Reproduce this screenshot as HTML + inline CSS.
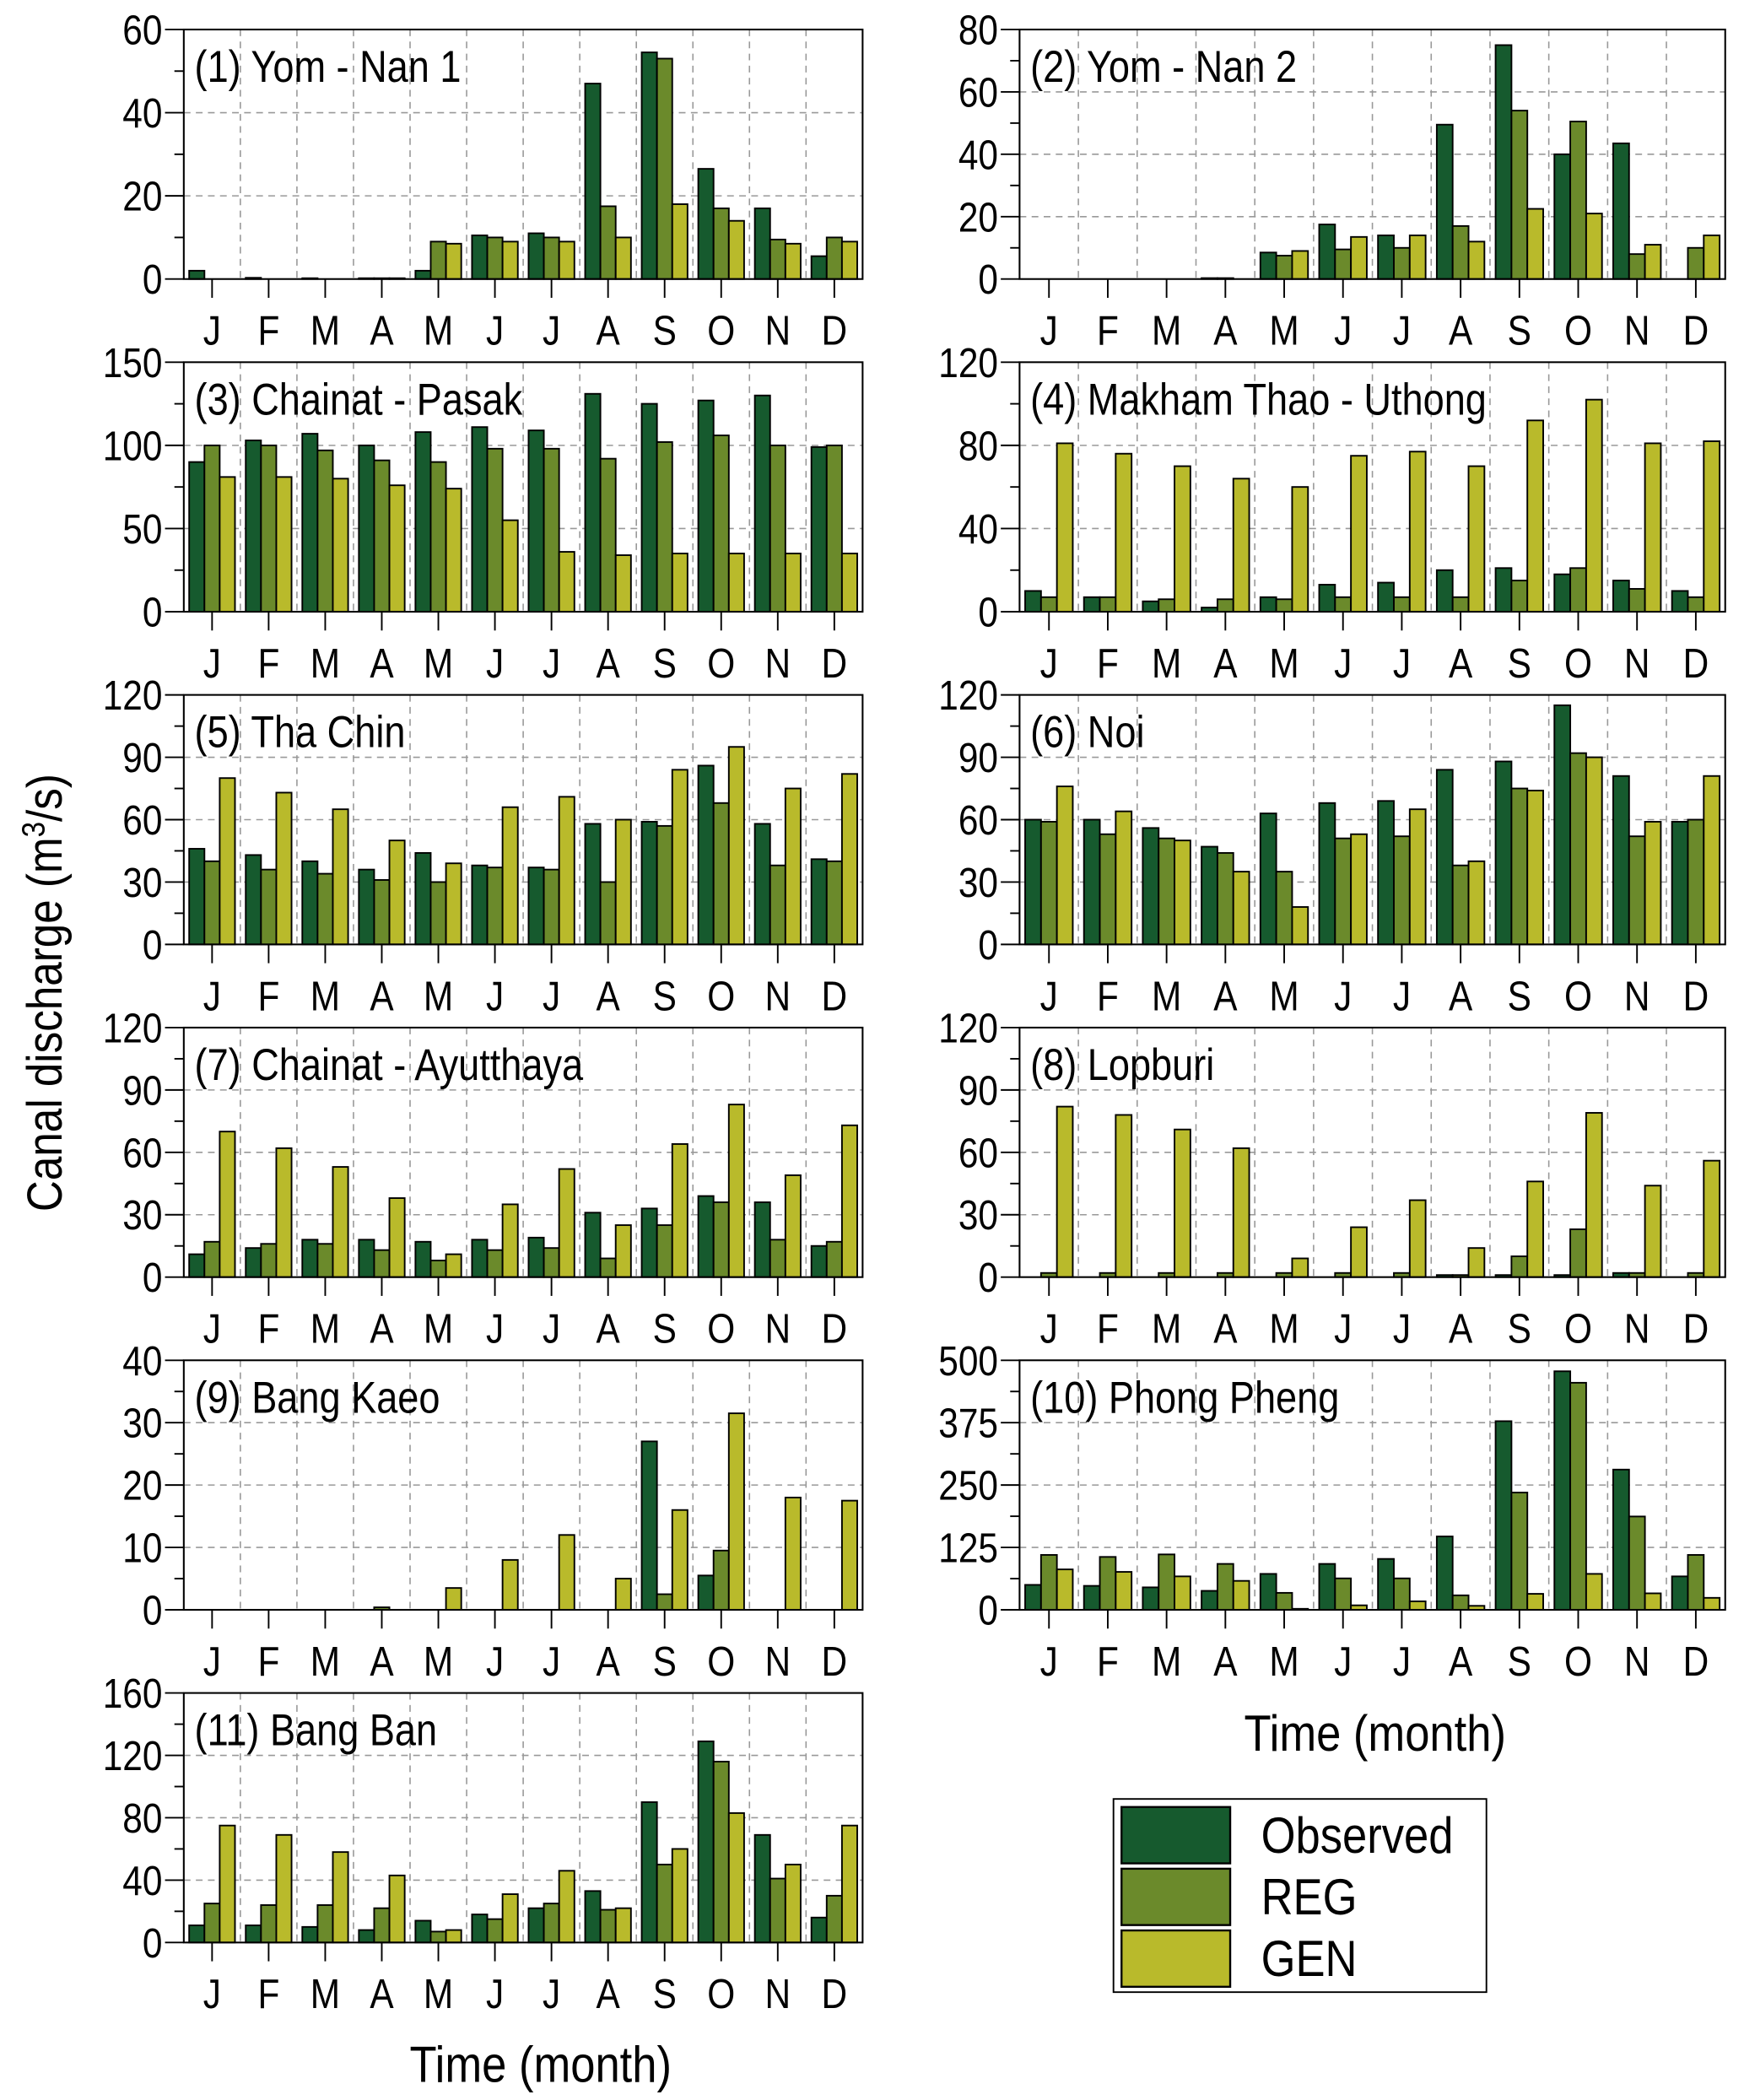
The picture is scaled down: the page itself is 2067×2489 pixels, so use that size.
<!DOCTYPE html>
<html><head><meta charset="utf-8"><style>html,body{margin:0;padding:0;background:#fff}svg{display:block}text{font-family:"Liberation Sans",Arial,sans-serif;fill:#000}</style></head>
<body>
<svg id="chart" width="2067" height="2489" viewBox="0 0 1300 1565.4" preserveAspectRatio="none" xmlns="http://www.w3.org/2000/svg">
<text transform="translate(46,740) rotate(-90) scale(0.87,1)" text-anchor="middle" font-size="37">Canal discharge (m<tspan font-size="24" dy="-13">3</tspan><tspan dy="13">/s)</tspan></text>
<text transform="translate(403,1552) scale(0.87,1)" text-anchor="middle" font-size="38">Time (month)</text>
<text transform="translate(1025,1305) scale(0.87,1)" text-anchor="middle" font-size="38">Time (month)</text>
<g>
<rect x="830" y="1341" width="278" height="144" fill="#fff" stroke="#000" stroke-width="1.2"/>
<rect x="836" y="1347" width="81" height="42" fill="#165a2e" stroke="#000" stroke-width="1.5"/>
<rect x="836" y="1393" width="81" height="42" fill="#6b8a2b" stroke="#000" stroke-width="1.5"/>
<rect x="836" y="1439" width="81" height="42" fill="#b9ba2b" stroke="#000" stroke-width="1.5"/>
<text transform="translate(940,1381) scale(0.87,1)" font-size="38">Observed</text>
<text transform="translate(940,1427) scale(0.87,1)" font-size="38">REG</text>
<text transform="translate(940,1473) scale(0.87,1)" font-size="38">GEN</text>
</g>
</svg>
<script>
const months = ["J","F","M","A","M","J","J","A","S","O","N","D"];
const titles = ["(1) Yom - Nan 1","(2) Yom - Nan 2","(3) Chainat - Pasak","(4) Makham Thao - Uthong","(5) Tha Chin","(6) Noi","(7) Chainat - Ayutthaya","(8) Lopburi","(9) Bang Kaeo","(10) Phong Pheng","(11) Bang Ban"];
const yMax = [60,80,150,120,120,120,120,120,40,500,160];
const yStep = [20,20,50,40,30,30,30,30,10,125,40];
const obs1 = [2,0.3,0.2,0.2,2,10.5,11,47,54.5,26.5,17,5.5];
const reg1 = [0,0,0,0.2,9,10,10,17.5,53,17,9.5,10];
const gen1 = [0,0,0,0.2,8.5,9,9,10,18,14,8.5,9];
const obs2 = [0,0,0,0.3,8.5,17.5,14,49.5,75,40,43.5,0];
const reg2 = [0,0,0,0.3,7.5,9.5,10,17,54,50.5,8,10];
const gen2 = [0,0,0,0,9,13.5,14,12,22.5,21,11,14];
const obs3 = [90,103,107,100,108,111,109,131,125,127,130,99];
const reg3 = [100,100,97,91,90,98,98,92,102,106,100,100];
const gen3 = [81,81,80,76,74,55,36,34,35,35,35,35];
const obs4 = [10,7,5,2,7,13,14,20,21,18,15,10];
const reg4 = [7,7,6,6,6,7,7,7,15,21,11,7];
const gen4 = [81,76,70,64,60,75,77,70,92,102,81,82];
const obs5 = [46,43,40,36,44,38,37,58,59,86,58,41];
const reg5 = [40,36,34,31,30,37,36,30,57,68,38,40];
const gen5 = [80,73,65,50,39,66,71,60,84,95,75,82];
const obs6 = [60,60,56,47,63,68,69,84,88,115,81,59];
const reg6 = [59,53,51,44,35,51,52,38,75,92,52,60];
const gen6 = [76,64,50,35,18,53,65,40,74,90,59,81];
const obs7 = [11,14,18,18,17,18,19,31,33,39,36,15];
const reg7 = [17,16,16,13,8,13,14,9,25,36,18,17];
const gen7 = [70,62,53,38,11,35,52,25,64,83,49,73];
const obs8 = [0,0,0,0,0,0,0,1,1,1,2,0];
const reg8 = [2,2,2,2,2,2,2,1,10,23,2,2];
const gen8 = [82,78,71,62,9,24,37,14,46,79,44,56];
const obs9 = [0,0,0,0,0,0,0,0,27,5.5,0,0];
const reg9 = [0,0,0,0.4,0,0,0,0,2.5,9.5,0,0];
const gen9 = [0,0,0,0,3.5,8,12,5,16,31.5,18,17.5];
const obs10 = [50,48,45,38,72,92,102,147,378,478,281,67];
const reg10 = [110,106,111,92,34,63,63,29,235,455,187,110];
const gen10 = [81,76,67,58,2,9,17,8,32,72,33,24];
const obs11 = [11,11,10,8,14,18,22,33,90,129,69,16];
const reg11 = [25,24,24,22,7,15,25,21,50,116,41,30];
const gen11 = [75,69,58,43,8,31,46,22,60,83,50,75];
const seriesObs = [obs1,obs2,obs3,obs4,obs5,obs6,obs7,obs8,obs9,obs10,obs11];
const seriesReg = [reg1,reg2,reg3,reg4,reg5,reg6,reg7,reg8,reg9,reg10,reg11];
const seriesGen = [gen1,gen2,gen3,gen4,gen5,gen6,gen7,gen8,gen9,gen10,gen11];
const colors = ["#165a2e","#6b8a2b","#b9ba2b"];
const seriesNames = ["observed","reg","gen"];

const NS = "http://www.w3.org/2000/svg";
const svg = document.getElementById("chart");
function mk(tag, attrs, parent){const e=document.createElementNS(NS,tag);for(const k in attrs)e.setAttribute(k,attrs[k]);(parent||svg).appendChild(e);return e;}
function txt(x,y,s,size,anchor,parent){return mk("text",{transform:"translate("+x+","+y+") scale(0.86,1)","font-size":size,"text-anchor":anchor},parent);}

const colX = [[137,643],[760,1286]];
const rowTop = [22,270,518,766,1014,1262];
const H = 186;

for(let p=0;p<11;p++){
  const col=p%2,row=Math.floor(p/2);
  const x0=colX[col][0],x1=colX[col][1],y0=rowTop[row],y1=y0+H;
  const W=x1-x0,gw=W/12;
  const g=mk("g",{});
  
  
  const yS=v=>y1-v/yMax[p]*H;
  const xS=i=>x0+gw*(i+0.5);
  for(let i=1;i<12;i++){mk("line",{x1:x0+gw*i,x2:x0+gw*i,y1:y0,y2:y1,stroke:"#999","stroke-dasharray":"5,4","stroke-width":1},g);}
  for(let v=yStep[p];v<yMax[p];v+=yStep[p]){mk("line",{x1:x0,x2:x1,y1:yS(v),y2:yS(v),stroke:"#999","stroke-dasharray":"5,4","stroke-width":1},g);}
  const sets=[seriesObs[p],seriesReg[p],seriesGen[p]];
  const bw=gw*0.27;
  for(let s=0;s<3;s++){
    for(let i=0;i<12;i++){
      const v=sets[s][i];
      const bx=xS(i)-1.5*bw+s*bw;
      const r=mk("rect",{x:bx,y:yS(v),width:bw,height:Math.max(0,y1-yS(v)),fill:colors[s],stroke:"#000","stroke-width":1.2},g);
      
      
    }
  }
  mk("rect",{x:x0,y:y0,width:W,height:H,fill:"none",stroke:"#000","stroke-width":1.3},g);
  for(let v=0;v<=yMax[p]+1e-9;v+=yStep[p]/2){
    const major=Math.abs((v/yStep[p])-Math.round(v/yStep[p]))<1e-6;
    mk("line",{x1:x0-(major?14:7),x2:x0,y1:yS(v),y2:yS(v),stroke:"#000","stroke-width":1.2},g);
    if(major){const t=txt(x0-16,yS(v)+11,String(v),31,"end",g);t.textContent=String(v);
      
      }
  }
  for(let i=0;i<12;i++){
    mk("line",{x1:xS(i),x2:xS(i),y1:y1,y2:y1+14,stroke:"#000","stroke-width":1.2},g);
    const t=txt(xS(i),y1+49,months[i],31,"middle",g);t.textContent=months[i];
    
    
  }
  const tt=txt(x0+8,y0+39,titles[p],33,"start",g);tt.textContent=titles[p];
  
  
}
</script>
</body></html>
